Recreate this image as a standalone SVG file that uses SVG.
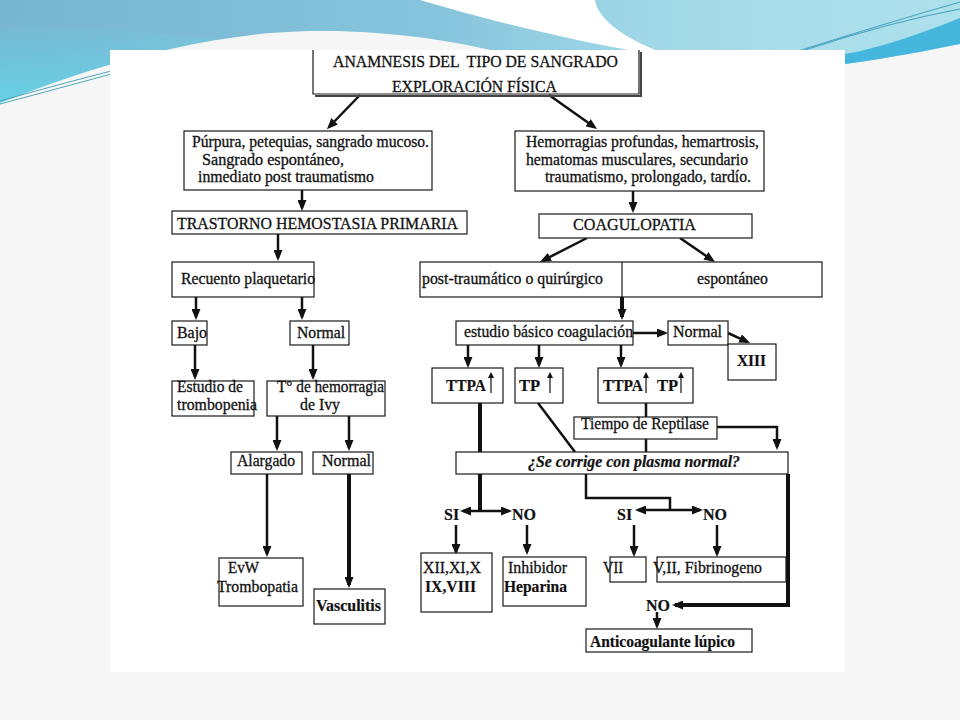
<svg xmlns="http://www.w3.org/2000/svg" width="960" height="720" viewBox="0 0 960 720">
<defs>
<linearGradient id="hdr" x1="0" y1="0" x2="1" y2="0">
<stop offset="0" stop-color="#78b6d0"/><stop offset="0.45" stop-color="#86c4dc"/><stop offset="0.7" stop-color="#a3dae8"/><stop offset="1" stop-color="#aee0ec"/>
</linearGradient>
<linearGradient id="cy" x1="0" y1="0" x2="0" y2="1">
<stop offset="0" stop-color="#5edcec" stop-opacity="0"/><stop offset="1" stop-color="#5edcec"/>
</linearGradient>
<marker id="ah" markerUnits="userSpaceOnUse" markerWidth="11" markerHeight="9" refX="8" refY="4.5" orient="auto"><path d="M0,0 L11,4.5 L0,9 Z" fill="#111"/></marker>
<marker id="up" markerUnits="userSpaceOnUse" markerWidth="6" markerHeight="6" refX="4" refY="3" orient="auto"><path d="M0,0 L6,3 L0,6 Z" fill="#111"/></marker>
<style>
.b{fill:#fff;stroke:#1a1a1a;stroke-width:1.2}
.t{font-family:"Liberation Serif","Times New Roman",serif;font-size:16px;fill:#111;stroke:#111;stroke-width:0.3}
.bd{font-weight:bold;stroke-width:0.2}
.c{fill:none;stroke:#111;stroke-width:2.5}
.k{stroke-width:4}
.a{marker-end:url(#ah)}
.u{fill:none;stroke:#111;stroke-width:1.2;marker-end:url(#up)}
</style>
</defs>
<g id="background">
<rect x="0" y="0" width="960" height="720" fill="#f5f5f5"/>
<rect x="0" y="0" width="960" height="140" fill="url(#hdr)"/>
<path d="M0,20 C150,30 300,50 440,60 L440,140 L0,140 Z" fill="url(#cy)"/>
<path d="M420,0 L595,0 C598,20 625,38 660,52 L640,52 C560,38 480,18 420,0 Z" fill="#ffffff"/>
<path d="M0,103 C60,80 150,45 270,33 C360,26 440,38 500,52 L845,52 L845,64 C890,58 930,50 960,44 L960,720 L0,720 Z" fill="#f6f6f6"/>
<path d="M845,64 C890,58 930,50 960,44 L960,18 C920,34 880,48 845,54 Z" fill="#45b6dc"/>
<path d="M795,52 Q880,25 960,2 M805,50 Q890,22 960,9" fill="none" stroke="#2a8fb0" stroke-width="0.8"/>
<path d="M0,101 Q60,84 115,70 M0,104 Q60,88 115,73" fill="none" stroke="#3a9db5" stroke-width="0.9"/>
<rect x="110" y="50" width="735" height="622" fill="#ffffff"/>
</g>
<g id="connectors">
<path class="c a" d="M360,95 L329,127"/>
<path class="c a" d="M549,95 L594.6,127.3"/>
<path class="c a" d="M302,190 V208"/>
<path class="c a" d="M278,234 V258"/>
<path class="c a" d="M196,297 V317"/>
<path class="c a" d="M302,297 V317"/>
<path class="c a" d="M195,345 V377"/>
<path class="c a" d="M313,345 V377"/>
<path class="c a" d="M277,416 V448"/>
<path class="c a" d="M349,416 V448"/>
<path class="c a" d="M267,474 V554"/>
<path class="c k a" d="M349,474 V585"/>
<path class="c a" d="M633,191 V210"/>
<path class="c a" d="M587,238 L542.7,260.6"/>
<path class="c a" d="M680,238 L712.5,260.3"/>
<path class="c k a" d="M622,297 V317"/>
<path class="c a" d="M633,333 H665"/>
<path class="c a" d="M728,333 L747.3,341.8"/>
<path class="c a" d="M468,345 V365"/>
<path class="c a" d="M539,345 V365"/>
<path class="c a" d="M621,345 V365"/>
<path class="c k" d="M480,403 V452 M480,474 V511"/>
<path class="c k" d="M480,452 V474" stroke-dasharray="3 2"/>
<path class="c a" d="M480,511 H463"/>
<path class="c a" d="M480,511 H509"/>
<path class="c" stroke-width="3" d="M538,403 L575,452"/>
<path class="c" stroke-width="5" d="M646,403 V417 M646,439 V452"/>
<path class="c a" stroke-width="3" d="M717,427 H777 V447"/>
<path class="c" stroke-width="3.5" d="M586,474 V498 H670 V510"/>
<path class="c a" d="M670,510 H638"/>
<path class="c a" d="M670,510 H700"/>
<path class="c k a" d="M788,474 V605 H675"/>
<path class="c a" d="M456,525 V552"/>
<path class="c a" d="M527,525 V552"/>
<path class="c a" d="M634,525 V554"/>
<path class="c a" d="M717,525 V554"/>
<path class="c a" d="M657,612 V626"/>
</g>
<g id="n-top">
<rect x="313" y="50" width="326" height="44" fill="#fff"/>
<path d="M313,50 V94 H639 V50" fill="none" stroke="#1a1a1a" stroke-width="1.2"/>
<path d="M641,52 V96 H315" fill="none" stroke="#444" stroke-width="2"/>
<text class="t" x="333" y="67" style="font-size:17px;white-space:pre" textLength="285" lengthAdjust="spacingAndGlyphs">ANAMNESIS DEL  TIPO DE SANGRADO</text>
<text class="t" x="392" y="92" style="font-size:17px" textLength="165" lengthAdjust="spacingAndGlyphs">EXPLORACIÓN FÍSICA</text>
</g>
<g id="n-purpura">
<rect class="b" x="184" y="131" width="248" height="59"/>
<text class="t" x="192" y="147" textLength="237" lengthAdjust="spacingAndGlyphs">Púrpura, petequias, sangrado mucoso.</text>
<text class="t" x="202" y="165" textLength="142" lengthAdjust="spacingAndGlyphs">Sangrado espontáneo,</text>
<text class="t" x="198" y="182" textLength="176" lengthAdjust="spacingAndGlyphs">inmediato post traumatismo</text>
</g>
<g id="n-trastorno">
<rect class="b" x="172" y="211" width="295" height="23"/>
<text class="t" x="177" y="229" style="font-size:17px" textLength="281" lengthAdjust="spacingAndGlyphs">TRASTORNO HEMOSTASIA PRIMARIA</text>
</g>
<g id="n-recuento">
<rect class="b" x="172" y="262" width="142" height="35"/>
<text class="t" x="181" y="284" textLength="134" lengthAdjust="spacingAndGlyphs">Recuento plaquetario</text>
</g>
<g id="n-bajo">
<rect class="b" x="172" y="321" width="35" height="24"/>
<text class="t" x="177" y="338" textLength="30" lengthAdjust="spacingAndGlyphs">Bajo</text>
</g>
<g id="n-normal1">
<rect class="b" x="290" y="321" width="59" height="24"/>
<text class="t" x="297" y="338" textLength="48" lengthAdjust="spacingAndGlyphs">Normal</text>
</g>
<g id="n-estudio">
<rect class="b" x="172" y="381" width="82" height="35"/>
<text class="t" x="177" y="392" textLength="66" lengthAdjust="spacingAndGlyphs">Estudio de</text>
<text class="t" x="177" y="410" textLength="80" lengthAdjust="spacingAndGlyphs">trombopenia</text>
</g>
<g id="n-ivy">
<rect class="b" x="267" y="381" width="118" height="35"/>
<text class="t" x="277" y="392" textLength="107" lengthAdjust="spacingAndGlyphs">T° de hemorragia</text>
<text class="t" x="300" y="410" textLength="40" lengthAdjust="spacingAndGlyphs">de Ivy</text>
</g>
<g id="n-alargado">
<rect class="b" x="231" y="452" width="71" height="22"/>
<text class="t" x="237" y="466" textLength="58" lengthAdjust="spacingAndGlyphs">Alargado</text>
</g>
<g id="n-normal2">
<rect class="b" x="313" y="452" width="60" height="22"/>
<text class="t" x="322" y="466" textLength="49" lengthAdjust="spacingAndGlyphs">Normal</text>
</g>
<g id="n-evw">
<rect class="b" x="219" y="558" width="84" height="48"/>
<text class="t" x="228" y="573" textLength="31" lengthAdjust="spacingAndGlyphs">EvW</text>
<text class="t" x="217" y="592" textLength="81" lengthAdjust="spacingAndGlyphs">Trombopatia</text>
</g>
<g id="n-vasculitis">
<rect class="b" x="314" y="589" width="71" height="35"/>
<text class="t bd" x="316" y="611" textLength="65" lengthAdjust="spacingAndGlyphs">Vasculitis</text>
</g>
<g id="n-hemorragias">
<rect class="b" x="515" y="131" width="249" height="60"/>
<text class="t" x="526" y="147" textLength="233" lengthAdjust="spacingAndGlyphs">Hemorragias profundas, hemartrosis,</text>
<text class="t" x="526" y="165" textLength="222" lengthAdjust="spacingAndGlyphs">hematomas musculares, secundario</text>
<text class="t" x="545" y="182" textLength="206" lengthAdjust="spacingAndGlyphs">traumatismo, prolongado, tardío.</text>
</g>
<g id="n-coagulopatia">
<rect class="b" x="539" y="214" width="213" height="24"/>
<text class="t" x="573" y="230" style="font-size:17px" textLength="123" lengthAdjust="spacingAndGlyphs">COAGULOPATIA</text>
</g>
<g id="n-tipo">
<rect class="b" x="420" y="262" width="402" height="35"/>
<path d="M622,262 V297" stroke="#1a1a1a" stroke-width="1.2"/>
<text class="t" x="422" y="284" textLength="181" lengthAdjust="spacingAndGlyphs">post-traumático o quirúrgico</text>
<text class="t" x="697" y="284" textLength="71" lengthAdjust="spacingAndGlyphs">espontáneo</text>
</g>
<g id="n-basico">
<rect class="b" x="456" y="321" width="177" height="24"/>
<text class="t" x="464" y="337" textLength="169" lengthAdjust="spacingAndGlyphs">estudio básico coagulación</text>
</g>
<g id="n-normal3">
<rect class="b" x="668" y="321" width="60" height="24"/>
<text class="t" x="673" y="337" textLength="49" lengthAdjust="spacingAndGlyphs">Normal</text>
</g>
<g id="n-xiii">
<rect class="b" x="728" y="344" width="48" height="36"/>
<text class="t bd" x="737" y="366" textLength="29" lengthAdjust="spacingAndGlyphs">XIII</text>
</g>
<g id="n-ttpa">
<rect class="b" x="432" y="368" width="71" height="35"/>
<text class="t bd" x="446" y="391" textLength="40" lengthAdjust="spacingAndGlyphs">TTPA</text>
<path class="u" d="M491,393 V374"/>
</g>
<g id="n-tp">
<rect class="b" x="515" y="368" width="48" height="35"/>
<text class="t bd" x="519" y="391" textLength="21" lengthAdjust="spacingAndGlyphs">TP</text>
<path class="u" d="M550,393 V374"/>
</g>
<g id="n-ttpatp">
<rect class="b" x="598" y="368" width="95" height="35"/>
<text class="t bd" x="603" y="391" textLength="40" lengthAdjust="spacingAndGlyphs">TTPA</text>
<path class="u" d="M646,393 V374"/>
<text class="t bd" x="657" y="391" textLength="21" lengthAdjust="spacingAndGlyphs">TP</text>
<path class="u" d="M681,393 V374"/>
</g>
<g id="n-reptilase">
<rect class="b" x="574" y="417" width="143" height="22"/>
<text class="t" x="581" y="429" textLength="128" lengthAdjust="spacingAndGlyphs">Tiempo de Reptilase</text>
</g>
<g id="n-plasma">
<rect class="b" x="456" y="452" width="332" height="22"/>
<text class="t bd" x="528" y="467" font-style="italic" textLength="212" lengthAdjust="spacingAndGlyphs">¿Se corrige con plasma normal?</text>
</g>
<g id="n-si1"><text class="t bd" x="444" y="520">SI</text></g>
<g id="n-no1"><text class="t bd" x="512" y="520">NO</text></g>
<g id="n-si2"><text class="t bd" x="617" y="520">SI</text></g>
<g id="n-no2"><text class="t bd" x="703" y="520">NO</text></g>
<g id="n-xii">
<rect class="b" x="421" y="553" width="71" height="59"/>
<text class="t" x="423" y="573" textLength="58" lengthAdjust="spacingAndGlyphs">XII,XI,X</text>
<text class="t bd" x="425" y="592" textLength="51" lengthAdjust="spacingAndGlyphs">IX,VIII</text>
</g>
<g id="n-inhibidor">
<rect class="b" x="503" y="557" width="83" height="49"/>
<text class="t" x="508" y="573" textLength="59" lengthAdjust="spacingAndGlyphs">Inhibidor</text>
<text class="t bd" x="504" y="592" textLength="63" lengthAdjust="spacingAndGlyphs">Heparina</text>
</g>
<g id="n-vii">
<rect class="b" x="610" y="557" width="36" height="25"/>
<text class="t" x="603" y="573" textLength="20" lengthAdjust="spacingAndGlyphs">VII</text>
</g>
<g id="n-fib">
<rect class="b" x="657" y="557" width="129" height="25"/>
<text class="t" x="653" y="573" textLength="109" lengthAdjust="spacingAndGlyphs">V,II, Fibrinogeno</text>
</g>
<g id="n-no3"><text class="t bd" x="646" y="611">NO</text></g>
<g id="n-anticoag">
<rect class="b" x="586" y="629" width="166" height="23"/>
<text class="t bd" x="590" y="647" textLength="145" lengthAdjust="spacingAndGlyphs">Anticoagulante lúpico</text>
</g>
</svg>
